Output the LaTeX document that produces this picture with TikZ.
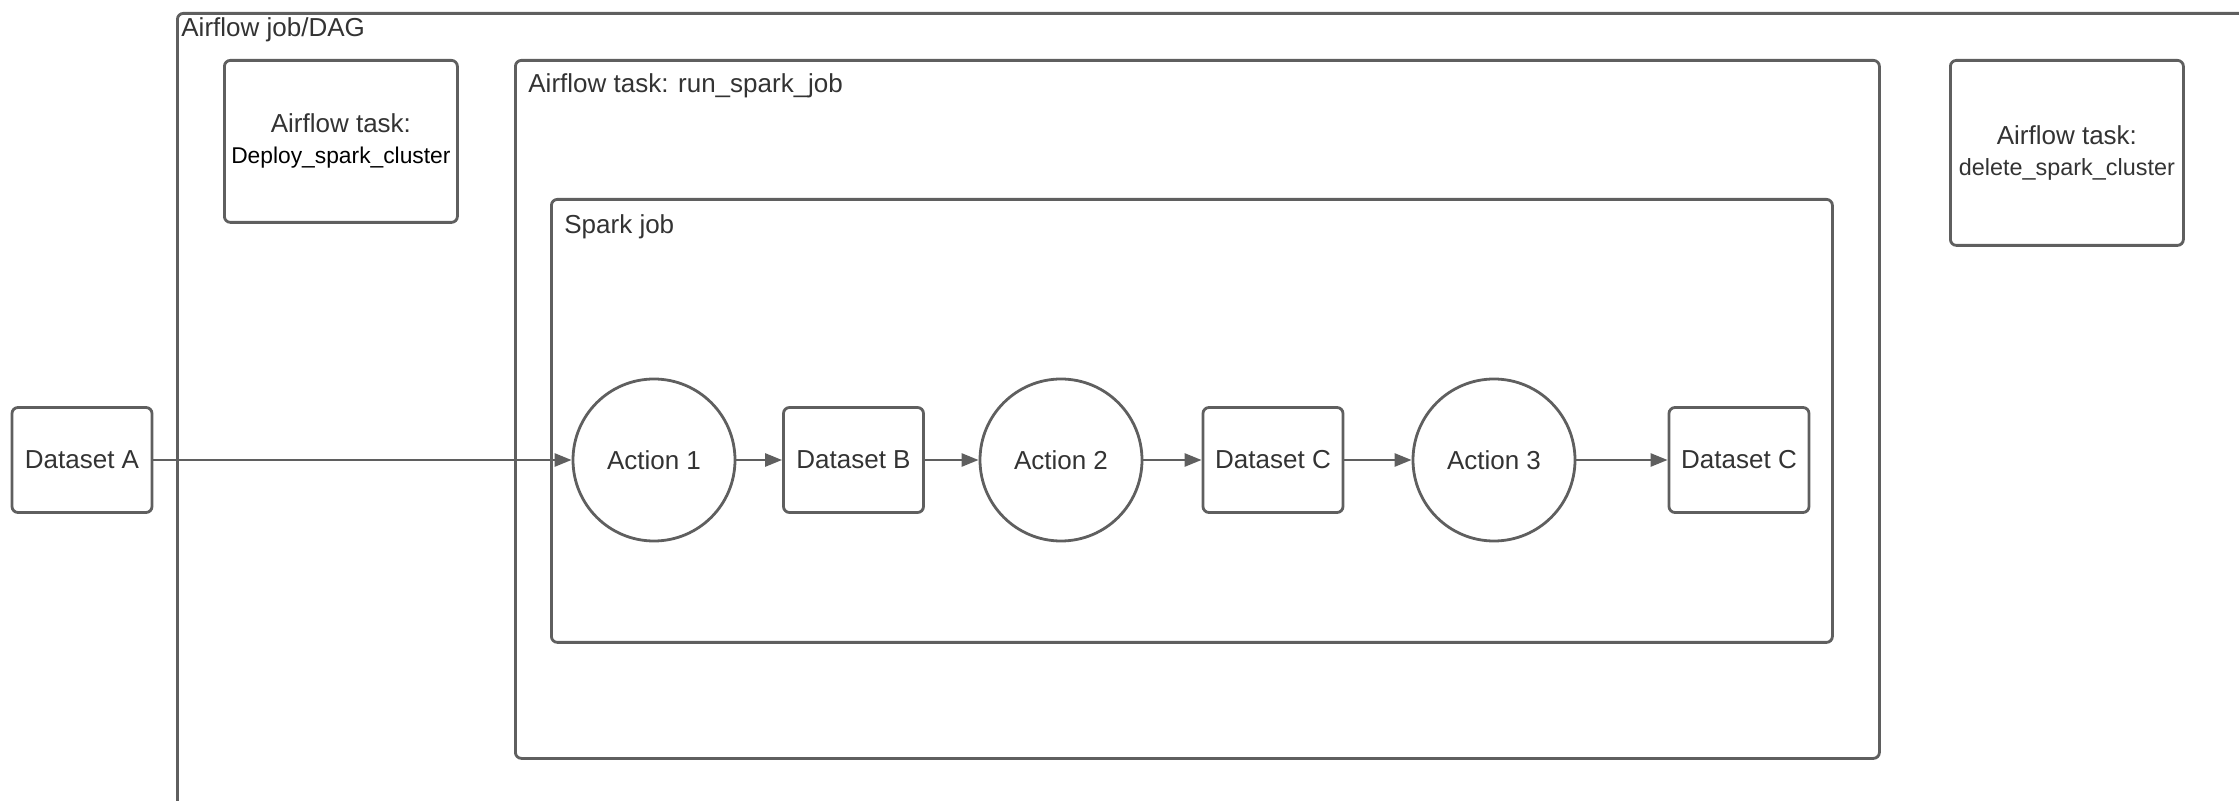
\documentclass[tikz,border=0pt]{standalone}
\usepackage{fontspec}
\setmainfont{Liberation Sans}
\usetikzlibrary{arrows.meta, positioning}
\definecolor{linegray}{HTML}{5F5F5F}
\definecolor{textgray}{HTML}{333333}

\begin{document}
\begin{tikzpicture}[x=0.5pt, y=-0.5pt,
    every node/.style={font=\fontsize{13}{15.5}\selectfont, text=textgray},
    container/.style={rectangle, draw=linegray, line width=1.4pt, rounded corners=3pt, anchor=north west},
    taskbox/.style={container, minimum width=116.5pt, align=center},
    dataset/.style={rectangle, draw=linegray, line width=1.4pt, rounded corners=3pt, minimum width=70pt, minimum height=52.5pt},
    action/.style={circle, draw=linegray, line width=1.4pt, minimum size=81pt},
    boxlabel/.style={anchor=west, inner sep=0pt},
    flow/.style={draw=linegray, line width=1.3pt, -{Triangle[length=8.5pt, width=6.5pt]}}]

    \useasboundingbox (0,0) rectangle (2239,801);
    \clip (0,0) rectangle (2239,801);

    % containers
    \node [container, minimum width=1060pt, minimum height=420pt] (dag) at (176,12) {};
    \node [boxlabel] (daglabel) at ([xshift=2.5pt, yshift=-9pt]dag.north west) {Airflow job/DAG};

    \node [taskbox, minimum height=81pt] (deploy) at (223,59)
        {Airflow task:\\ {\fontsize{11.4}{14}\selectfont\color{black}Deploy\_spark\_cluster}};
    \node [taskbox, minimum height=92.5pt] (delete) at (1949,59)
        {Airflow task:\\ {\fontsize{11.7}{14}\selectfont delete\_spark\_cluster}};

    \node [container, minimum width=682pt, minimum height=349pt] (run) at (514,59) {};
    \node [boxlabel] (runlabel) at ([xshift=7pt, yshift=-13.5pt]run.north west) {Airflow task: run\_spark\_job};

    \node [container, minimum width=640.5pt, minimum height=221.5pt] (spark) at (550,198) {};
    \node [boxlabel] (sparklabel) at ([xshift=7pt, yshift=-14.5pt]spark.north west) {Spark job};

    % data flow
    \node [dataset] (dsA) at (82,460) {Dataset A};
    \node [action] (act1) at (654,460) {Action 1};
    \node [dataset] (dsB) at (853.5,460) {Dataset B};
    \node [action] (act2) at (1061,460) {Action 2};
    \node [dataset] (dsC) at (1273,460) {Dataset C};
    \node [action] (act3) at (1494,460) {Action 3};
    \node [dataset] (dsC2) at (1739,460) {Dataset C};

    \draw [flow] (dsA) -- (act1);
    \draw [flow] (act1) -- (dsB);
    \draw [flow] (dsB) -- (act2);
    \draw [flow] (act2) -- (dsC);
    \draw [flow] (dsC) -- (act3);
    \draw [flow] (act3) -- (dsC2);
\end{tikzpicture}
\end{document}
